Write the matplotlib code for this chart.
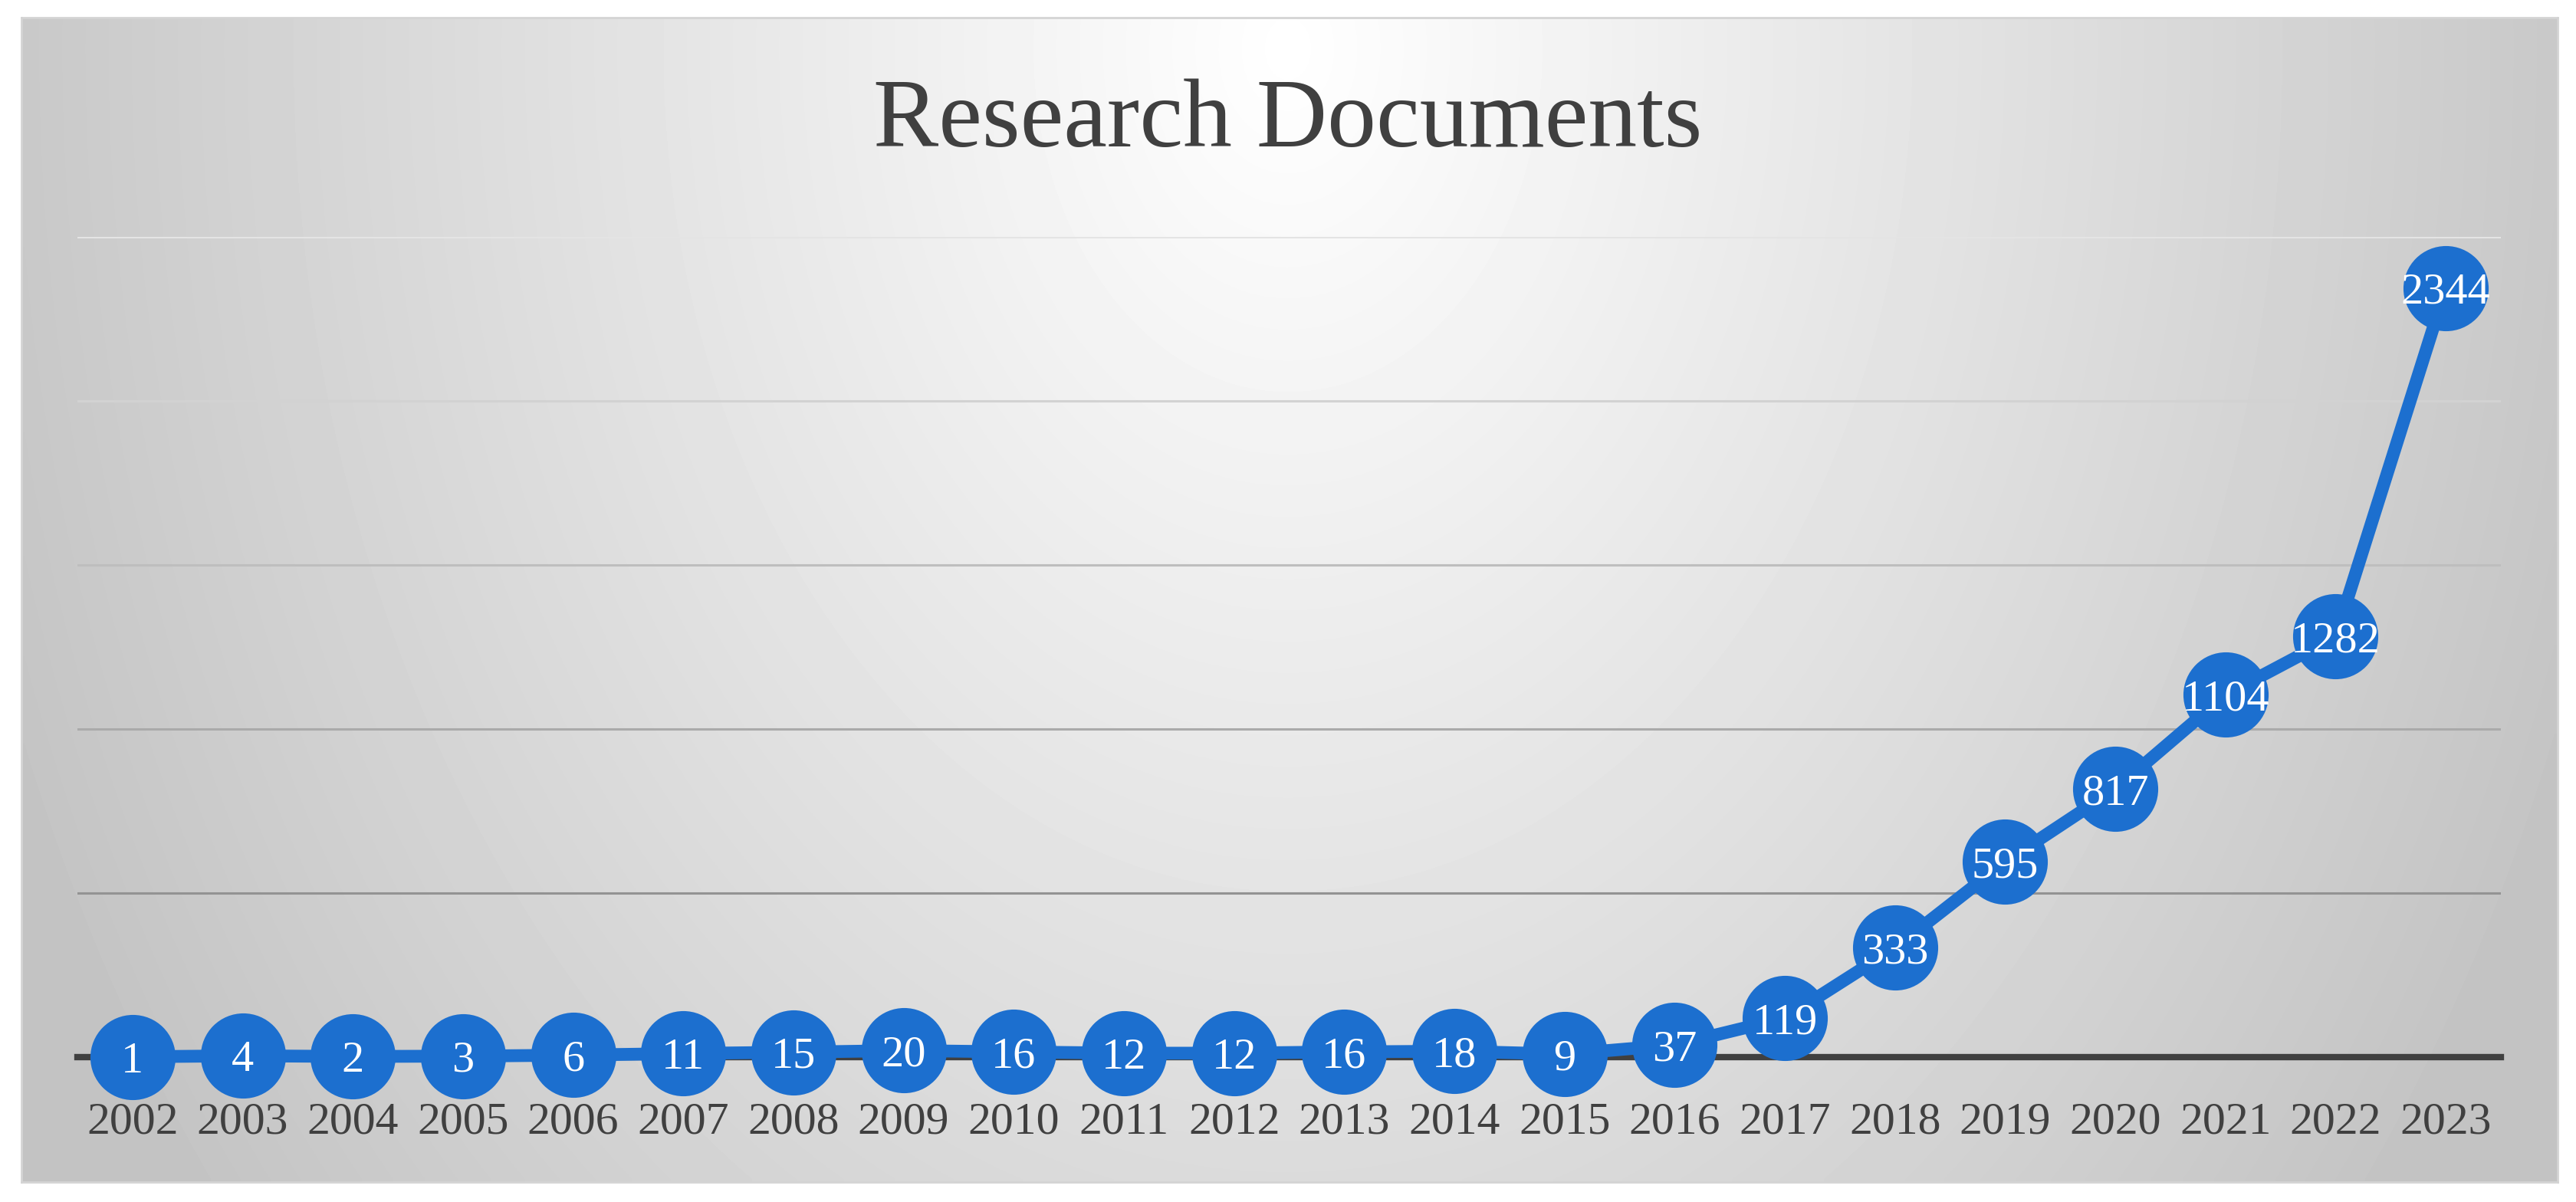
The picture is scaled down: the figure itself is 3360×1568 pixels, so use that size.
import matplotlib.pyplot as plt
import numpy as np

years = ['2002', '2003', '2004', '2005', '2006', '2007', '2008', '2009', '2010', '2011', '2012',
         '2013', '2014', '2015', '2016', '2017', '2018', '2019', '2020', '2021', '2022', '2023']
docs = [1, 4, 2, 3, 6, 11, 15, 20, 16, 12, 12, 16, 18, 9, 37, 119, 333, 595, 817, 1104, 1282, 2344]
grid_vals = [500, 1000, 1500, 2000, 2500]
grid_colors = ['#939393', '#aaaaaa', '#bebebe', '#d2d2d2', '#e4e4e4']

W, H = 3360, 1568
fig = plt.figure(figsize=(W / 100, H / 100), dpi=100)
fig.patch.set_facecolor('white')

# panel with radial grey gradient
px0, px1, py0, py1 = 28, 3336, 23, 1542
bg = fig.add_axes([px0 / W, 1 - py1 / H, (px1 - px0) / W, (py1 - py0) / H])
xx, yy = np.meshgrid(np.linspace(px0, px1, 400), np.linspace(py0, py1, 200))
d = np.sqrt(((xx - 1680) / 1700) ** 2 + ((yy - 60) / 2300) ** 2)
shade = 255 - 56 * np.clip(d, 0, 1.08)
bg.imshow(shade, cmap='gray', vmin=0, vmax=255, aspect='auto', interpolation='bilinear')
bg.set_xticks([])
bg.set_yticks([])
for s in bg.spines.values():
    s.set_color('#d4d4d4')
    s.set_linewidth(2)

# plot area
ax = fig.add_axes([101 / W, 1 - 1379 / H, 3161 / W, (1379 - 309) / H])
ax.patch.set_alpha(0)
x = np.arange(len(years))
ax.set_xlim(-0.5, len(years) - 0.5)
ax.set_ylim(0, 2500)

for v, c in zip(grid_vals, grid_colors):
    ax.axhline(v, color=c, linewidth=2.2, zorder=1)

for s in ['top', 'left', 'right']:
    ax.spines[s].set_visible(False)
ax.spines['bottom'].set_color('#404040')
ax.spines['bottom'].set_linewidth(6)
ax.spines['bottom'].set_zorder(2)

ax.plot(x, docs, color='#1c6fcf', linewidth=12, marker='o', markersize=80,
        markeredgewidth=0, clip_on=False, zorder=3)

for xi, v in zip(x, docs):
    ax.text(xi, v, str(v), ha='center', va='center_baseline', color='white',
            fontsize=42, family='Liberation Serif', zorder=4, clip_on=False)

ax.set_yticks([])
ax.set_xticks(x)
ax.set_xticklabels(years, fontsize=43, family='Liberation Serif', color='#404040')
ax.tick_params(axis='x', length=0, pad=42)

fig.text(0.5, 1 - 160 / H, 'Research Documents', ha='center', va='center',
         fontsize=92, family='Liberation Serif', color='#404040')

fig.savefig('out.png', dpi=100)
